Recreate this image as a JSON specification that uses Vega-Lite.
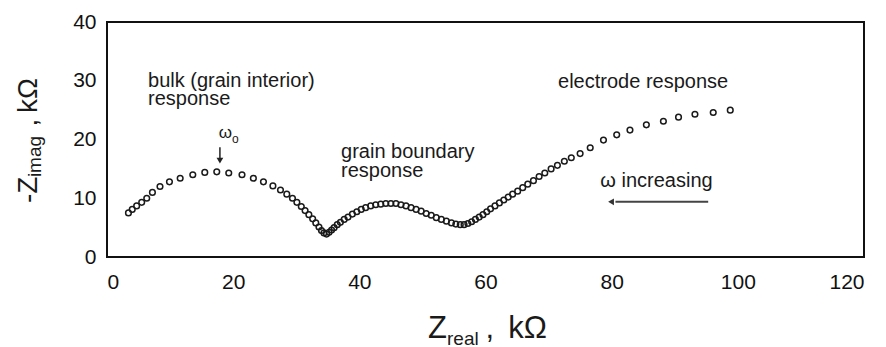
{
  "$schema": "https://vega.github.io/schema/vega-lite/v6.json",
  "width": 757,
  "height": 235,
  "autosize": {"type": "none"},
  "padding": {"left": 107, "top": 22, "right": 22, "bottom": 90},
  "background": "white",
  "config": {
    "view": {"stroke": "#111", "strokeWidth": 2},
    "font": "Liberation Sans",
    "axis": {
      "grid": false,
      "domain": false,
      "ticks": false,
      "labelFont": "Liberation Sans",
      "labelFontSize": 21,
      "labelColor": "#111",
      "title": null
    }
  },
  "datasets": {
    "pts": [
      {"zr": 3.4, "zi": 7.5}, {"zr": 4.0, "zi": 8.1}, {"zr": 4.7, "zi": 8.7}, {"zr": 5.5, "zi": 9.3},
      {"zr": 6.3, "zi": 10.0}, {"zr": 7.2, "zi": 11.0}, {"zr": 8.4, "zi": 12.0}, {"zr": 9.9, "zi": 12.8},
      {"zr": 11.6, "zi": 13.4}, {"zr": 13.6, "zi": 14.0}, {"zr": 15.5, "zi": 14.4}, {"zr": 17.4, "zi": 14.5},
      {"zr": 19.3, "zi": 14.3}, {"zr": 21.4, "zi": 14.0}, {"zr": 23.2, "zi": 13.4}, {"zr": 24.8, "zi": 12.8},
      {"zr": 26.3, "zi": 12.1}, {"zr": 27.5, "zi": 11.4}, {"zr": 28.5, "zi": 10.7}, {"zr": 29.4, "zi": 10.0},
      {"zr": 30.1, "zi": 9.3}, {"zr": 30.8, "zi": 8.6}, {"zr": 31.4, "zi": 7.9}, {"zr": 32.0, "zi": 7.2},
      {"zr": 32.6, "zi": 6.5}, {"zr": 33.1, "zi": 5.8}, {"zr": 33.6, "zi": 5.1}, {"zr": 34.0, "zi": 4.5},
      {"zr": 34.4, "zi": 4.1}, {"zr": 34.8, "zi": 3.9}, {"zr": 35.2, "zi": 4.2}, {"zr": 35.6, "zi": 4.6},
      {"zr": 36.0, "zi": 5.0}, {"zr": 36.5, "zi": 5.5}, {"zr": 37.0, "zi": 5.9}, {"zr": 37.6, "zi": 6.4},
      {"zr": 38.2, "zi": 6.8}, {"zr": 38.9, "zi": 7.3}, {"zr": 39.6, "zi": 7.7}, {"zr": 40.3, "zi": 8.1},
      {"zr": 41.0, "zi": 8.4}, {"zr": 41.8, "zi": 8.7}, {"zr": 42.6, "zi": 8.9}, {"zr": 43.4, "zi": 9.0},
      {"zr": 44.2, "zi": 9.1}, {"zr": 45.0, "zi": 9.1}, {"zr": 45.8, "zi": 9.1}, {"zr": 46.6, "zi": 8.9},
      {"zr": 47.4, "zi": 8.7}, {"zr": 48.2, "zi": 8.4}, {"zr": 49.0, "zi": 8.1}, {"zr": 49.8, "zi": 7.8},
      {"zr": 50.6, "zi": 7.4}, {"zr": 51.4, "zi": 7.1}, {"zr": 52.2, "zi": 6.7}, {"zr": 53.0, "zi": 6.4},
      {"zr": 53.8, "zi": 6.1}, {"zr": 54.6, "zi": 5.8}, {"zr": 55.3, "zi": 5.6}, {"zr": 56.0, "zi": 5.5},
      {"zr": 56.6, "zi": 5.5}, {"zr": 57.2, "zi": 5.7}, {"zr": 57.8, "zi": 6.0}, {"zr": 58.4, "zi": 6.4},
      {"zr": 59.0, "zi": 6.8}, {"zr": 59.6, "zi": 7.2}, {"zr": 60.2, "zi": 7.7}, {"zr": 60.8, "zi": 8.2},
      {"zr": 61.5, "zi": 8.7}, {"zr": 62.2, "zi": 9.2}, {"zr": 62.9, "zi": 9.7}, {"zr": 63.6, "zi": 10.2},
      {"zr": 64.3, "zi": 10.7}, {"zr": 65.1, "zi": 11.2}, {"zr": 65.9, "zi": 11.8}, {"zr": 66.7, "zi": 12.4},
      {"zr": 67.6, "zi": 13.0}, {"zr": 68.5, "zi": 13.7}, {"zr": 69.4, "zi": 14.3}, {"zr": 70.4, "zi": 15.0},
      {"zr": 71.4, "zi": 15.6}, {"zr": 72.5, "zi": 16.3}, {"zr": 73.6, "zi": 16.9}, {"zr": 75.0, "zi": 17.6},
      {"zr": 76.6, "zi": 18.6}, {"zr": 78.7, "zi": 19.9}, {"zr": 80.8, "zi": 20.8}, {"zr": 82.9, "zi": 21.6},
      {"zr": 85.5, "zi": 22.5}, {"zr": 88.2, "zi": 23.1}, {"zr": 90.6, "zi": 23.8}, {"zr": 93.2, "zi": 24.3},
      {"zr": 96.1, "zi": 24.6}, {"zr": 98.8, "zi": 25.0}
    ],
    "xticks": [{"zr": 20}, {"zr": 40}, {"zr": 60}, {"zr": 80}, {"zr": 100}],
    "yticks": [{"zi": 10}, {"zi": 20}, {"zi": 30}],
    "notes": [
      {"label": "bulk (grain interior)", "zr": 6.5, "zi": 28.9},
      {"label": "response", "zr": 6.5, "zi": 25.8},
      {"label": "grain boundary", "zr": 37.1, "zi": 16.9},
      {"label": "response", "zr": 37.1, "zi": 13.6},
      {"label": "electrode response", "zr": 71.5, "zi": 28.8},
      {"label": "ω increasing", "zr": 78.2, "zi": 11.9}
    ],
    "omega": [{"label": "ω", "zr": 17.7, "zi": 20.3}],
    "omegasub": [{"label": "o", "zr": 19.8, "zi": 19.4}],
    "vArrow": [{"zr": 17.9, "zi": 18.7, "zi2": 16.6}],
    "vHead": [{"zr": 17.9, "zi": 16.4}],
    "hArrow": [{"zr": 80.6, "zr2": 95.3, "zi": 9.4}],
    "hHead": [{"zr": 79.9, "zi": 9.4}],
    "xTitleBig": [
      {"label": "Z", "zr": 50.9, "zi": -13.8},
      {"label": ",", "zr": 60.0, "zi": -13.8},
      {"label": "kΩ", "zr": 63.6, "zi": -13.8}
    ],
    "xTitleSub": [{"label": "real", "zr": 53.9, "zi": -14.9}],
    "yTitleBig": [
      {"label": "-Z", "zr": -11.1, "zi": 9.2},
      {"label": ",", "zr": -11.1, "zi": 22.2},
      {"label": "kΩ", "zr": -11.1, "zi": 24.5}
    ],
    "yTitleSub": [{"label": "imag", "zr": -10.4, "zi": 13.6}]
  },
  "encoding": {
    "x": {
      "field": "zr", "type": "quantitative",
      "scale": {"domain": [0, 120]},
      "axis": {"values": [0, 20, 40, 60, 80, 100, 120], "labelPadding": 14}
    },
    "y": {
      "field": "zi", "type": "quantitative",
      "scale": {"domain": [0, 40]},
      "axis": {"values": [0, 10, 20, 30, 40], "labelPadding": 11}
    }
  },
  "layer": [
    {
      "data": {"name": "xticks"},
      "mark": {"type": "rule", "color": "#111", "strokeWidth": 1.5},
      "encoding": {"y": {"datum": 0}, "y2": {"datum": 1.1}}
    },
    {
      "data": {"name": "yticks"},
      "mark": {"type": "rule", "color": "#111", "strokeWidth": 1.5},
      "encoding": {"x": {"datum": 0}, "x2": {"datum": 1.0}}
    },
    {
      "data": {"name": "pts"},
      "mark": {"type": "point", "shape": "circle", "filled": false, "size": 32, "stroke": "#1a1a1a", "strokeWidth": 1.5, "opacity": 1}
    },
    {
      "data": {"name": "notes"},
      "mark": {"type": "text", "align": "left", "baseline": "alphabetic", "fontSize": 20, "color": "#1a1a1a"},
      "encoding": {"text": {"field": "label"}}
    },
    {
      "data": {"name": "omega"},
      "mark": {"type": "text", "align": "left", "baseline": "alphabetic", "fontSize": 17, "color": "#1a1a1a"},
      "encoding": {"text": {"field": "label"}}
    },
    {
      "data": {"name": "omegasub"},
      "mark": {"type": "text", "align": "left", "baseline": "alphabetic", "fontSize": 12, "color": "#1a1a1a"},
      "encoding": {"text": {"field": "label"}}
    },
    {
      "data": {"name": "vArrow"},
      "mark": {"type": "rule", "color": "#222", "strokeWidth": 1.5},
      "encoding": {"y2": {"field": "zi2"}}
    },
    {
      "data": {"name": "vHead"},
      "mark": {"type": "point", "shape": "triangle-down", "filled": true, "size": 45, "color": "#222", "opacity": 1}
    },
    {
      "data": {"name": "hArrow"},
      "mark": {"type": "rule", "color": "#444", "strokeWidth": 2},
      "encoding": {"x2": {"field": "zr2"}}
    },
    {
      "data": {"name": "hHead"},
      "mark": {"type": "point", "shape": "triangle-left", "filled": true, "size": 45, "color": "#333", "opacity": 1}
    },
    {
      "data": {"name": "xTitleBig"},
      "mark": {"type": "text", "align": "left", "baseline": "alphabetic", "fontSize": 31, "color": "#1a1a1a"},
      "encoding": {"text": {"field": "label"}}
    },
    {
      "data": {"name": "xTitleSub"},
      "mark": {"type": "text", "align": "left", "baseline": "alphabetic", "fontSize": 19, "color": "#1a1a1a"},
      "encoding": {"text": {"field": "label"}}
    },
    {
      "data": {"name": "yTitleBig"},
      "mark": {"type": "text", "align": "left", "baseline": "alphabetic", "angle": 270, "fontSize": 28, "color": "#1a1a1a"},
      "encoding": {"text": {"field": "label"}}
    },
    {
      "data": {"name": "yTitleSub"},
      "mark": {"type": "text", "align": "left", "baseline": "alphabetic", "angle": 270, "fontSize": 19, "color": "#1a1a1a"},
      "encoding": {"text": {"field": "label"}}
    }
  ]
}
